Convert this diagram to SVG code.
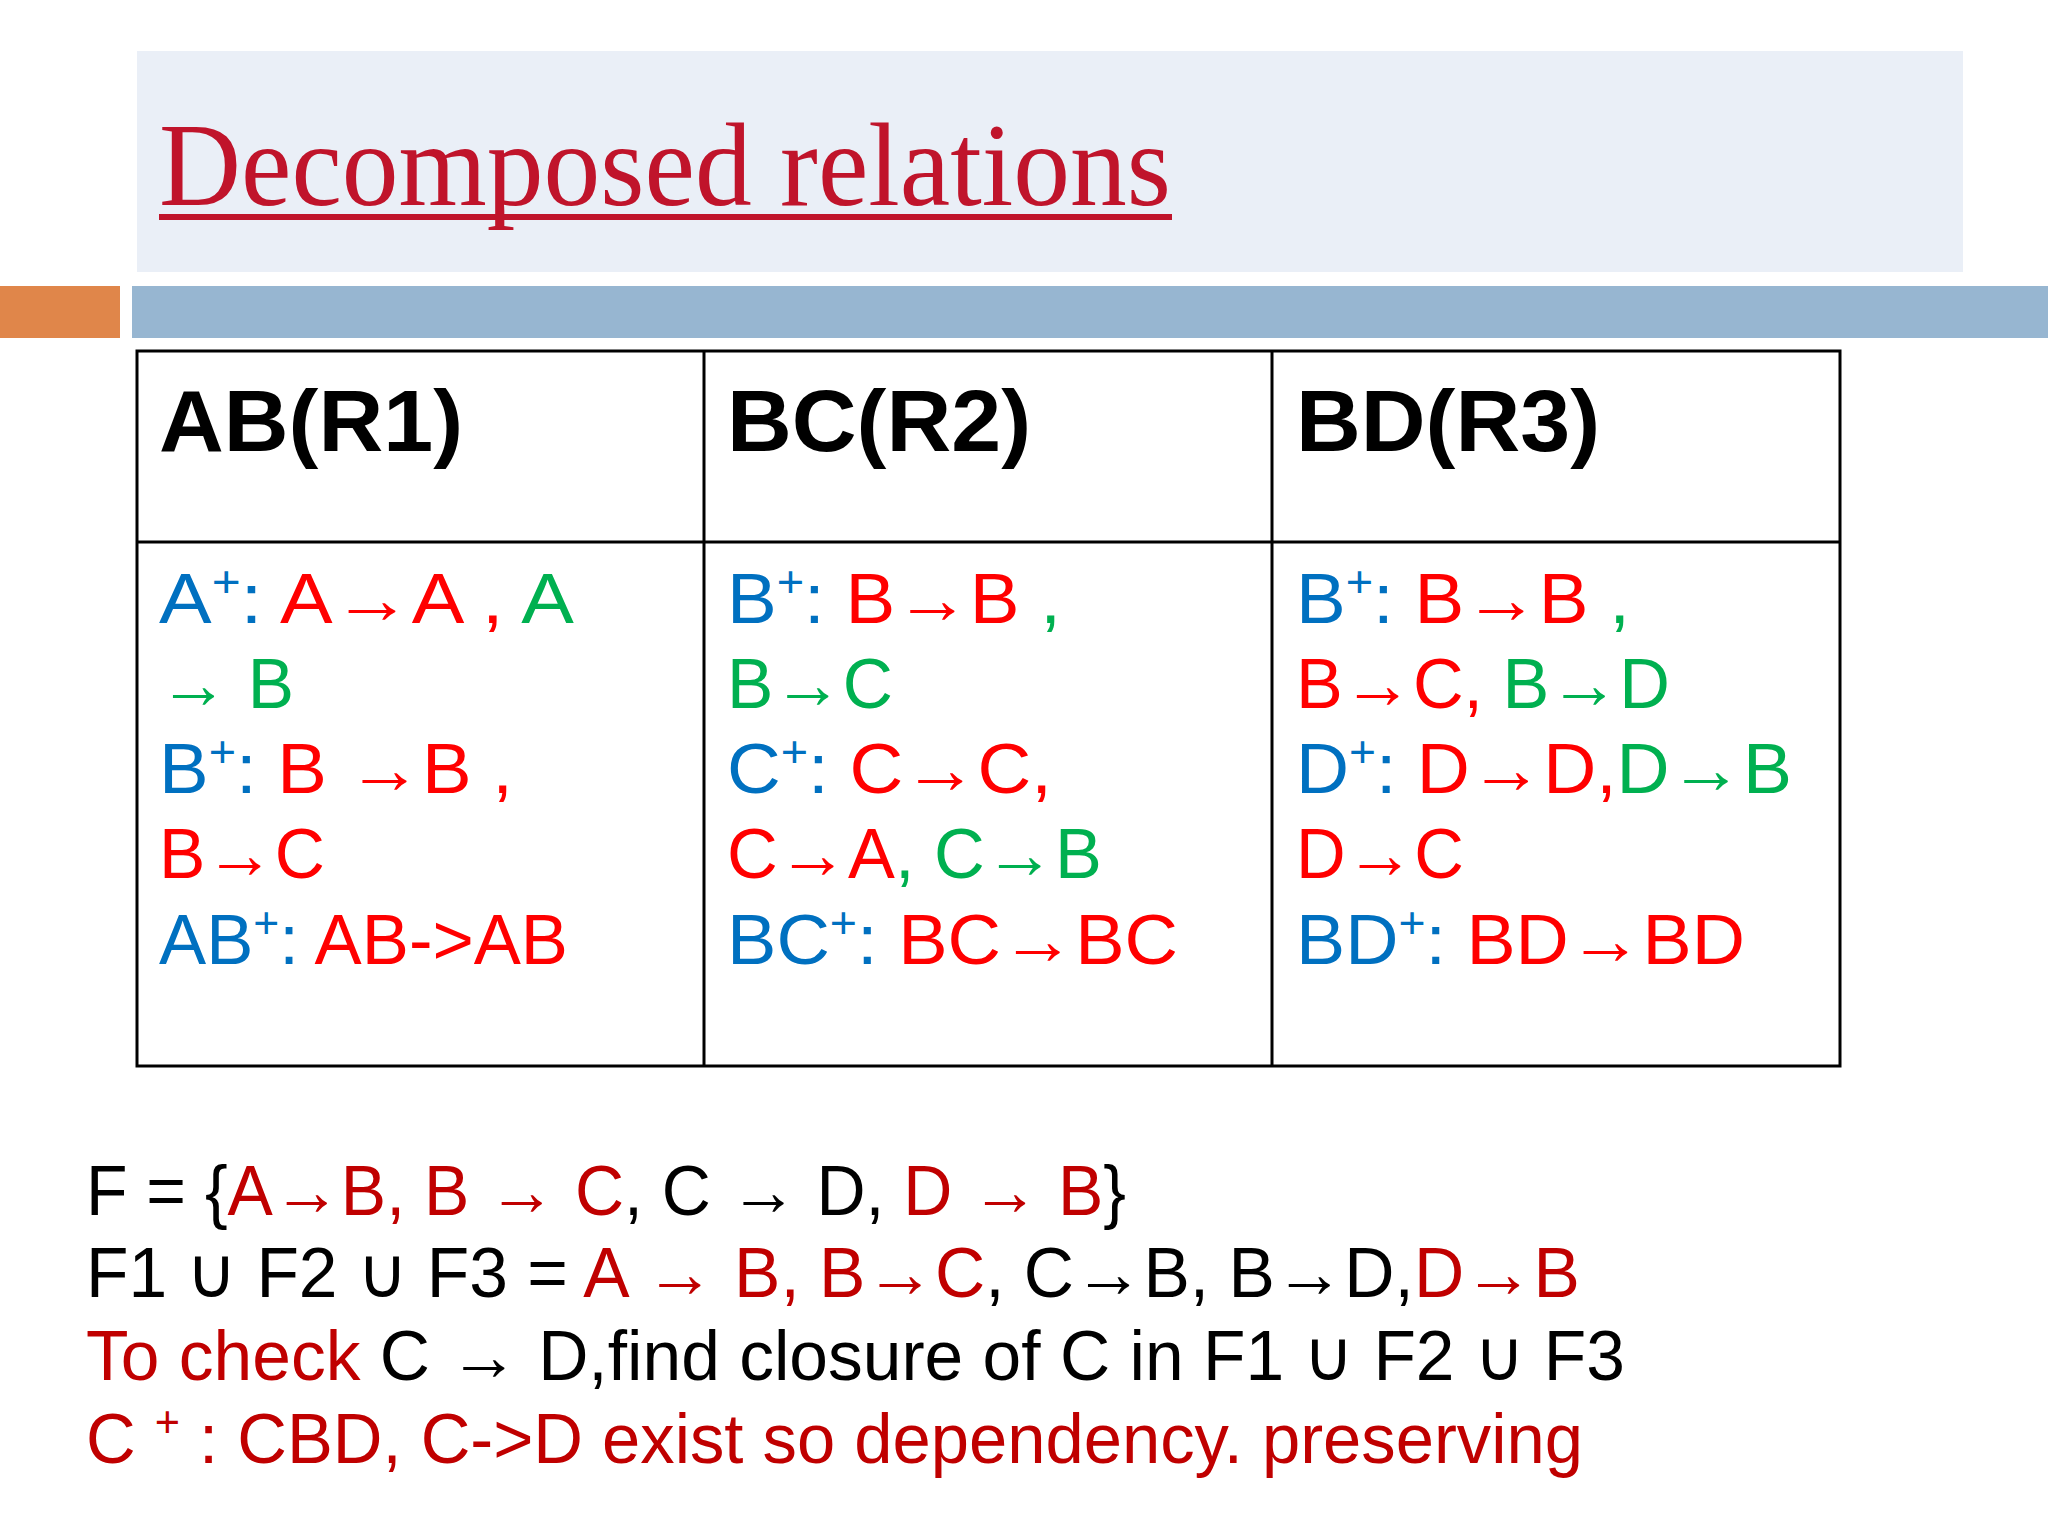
<svg xmlns="http://www.w3.org/2000/svg" width="2048" height="1536" viewBox="0 0 2048 1536">
<style>
.t{font-family:"Liberation Sans",Arial,sans-serif;font-size:70px}
.h{font-family:"Liberation Sans",Arial,sans-serif;font-size:88px;font-weight:bold;fill:#000}
.b{font-family:"Liberation Sans",Arial,sans-serif;font-size:70px;fill:#000}
.bl{fill:#0070C0}.r{fill:#FF0000}.g{fill:#00B050}.dr{fill:#C00000}.k{fill:#000}
.sup{font-size:44px}
.grid{stroke:#000;stroke-width:3;fill:none}
</style>
<rect width="2048" height="1536" fill="#fff"/>
<g id="title">
<rect x="137" y="51" width="1826" height="221" fill="#EAEFF7"/>
<text x="159" y="205" font-family="'Liberation Serif','Times New Roman',serif" font-size="118" fill="#C0142B" textLength="1012" lengthAdjust="spacingAndGlyphs">Decomposed relations</text>
<rect x="159" y="214" width="1013" height="6" fill="#C0142B"/>
</g>
<g id="bars">
<rect x="0" y="286" width="120" height="52" fill="#E0864A"/>
<rect x="132" y="286" width="1916" height="52" fill="#97B6D1"/>
</g>
<g id="table">
<rect class="grid" x="137" y="351" width="1703" height="715"/>
<line class="grid" x1="704" y1="351" x2="704" y2="1066"/>
<line class="grid" x1="1272" y1="351" x2="1272" y2="1066"/>
<line class="grid" x1="137" y1="542" x2="1840" y2="542"/>
<text class="h" x="159" y="451" textLength="304" lengthAdjust="spacingAndGlyphs">AB(R1)</text>
<text class="h" x="727" y="451" textLength="304" lengthAdjust="spacingAndGlyphs">BC(R2)</text>
<text class="h" x="1296" y="451" textLength="304" lengthAdjust="spacingAndGlyphs">BD(R3)</text>
</g>
<g id="col1">
<text class="t" x="159" y="623" textLength="415" lengthAdjust="spacingAndGlyphs"><tspan class="bl">A</tspan><tspan class="bl sup" dy="-26">+</tspan><tspan class="bl" dy="26">:   </tspan><tspan class="r">A→A , </tspan><tspan class="g">A</tspan></text>
<text class="t g" x="159" y="708" textLength="135" lengthAdjust="spacingAndGlyphs">→ B</text>
<text class="t" x="159" y="793" textLength="354" lengthAdjust="spacingAndGlyphs"><tspan class="bl">B</tspan><tspan class="bl sup" dy="-26">+</tspan><tspan class="bl" dy="26">:  </tspan><tspan class="r">B →B ,</tspan></text>
<text class="t r" x="159" y="878" textLength="166" lengthAdjust="spacingAndGlyphs">B→C</text>
<text class="t" x="159" y="964" textLength="409" lengthAdjust="spacingAndGlyphs"><tspan class="bl">AB</tspan><tspan class="bl sup" dy="-26">+</tspan><tspan class="bl" dy="26">: </tspan><tspan class="r">AB-&gt;AB</tspan></text>
</g>
<g id="col2">
<text class="t" x="727" y="623" textLength="334" lengthAdjust="spacingAndGlyphs"><tspan class="bl">B</tspan><tspan class="bl sup" dy="-26">+</tspan><tspan class="bl" dy="26">:  </tspan><tspan class="r">B→B </tspan><tspan class="g">,</tspan></text>
<text class="t g" x="727" y="708" textLength="166" lengthAdjust="spacingAndGlyphs">B→C</text>
<text class="t" x="727" y="793" textLength="325" lengthAdjust="spacingAndGlyphs"><tspan class="bl">C</tspan><tspan class="bl sup" dy="-26">+</tspan><tspan class="bl" dy="26">:  </tspan><tspan class="r">C→C,</tspan></text>
<text class="t" x="727" y="878" textLength="375" lengthAdjust="spacingAndGlyphs"><tspan class="r">C→A</tspan><tspan class="g">, C→B</tspan></text>
<text class="t" x="727" y="964" textLength="451" lengthAdjust="spacingAndGlyphs"><tspan class="bl">BC</tspan><tspan class="bl sup" dy="-26">+</tspan><tspan class="bl" dy="26">:  </tspan><tspan class="r">BC→BC</tspan></text>
</g>
<g id="col3">
<text class="t" x="1296" y="623" textLength="334" lengthAdjust="spacingAndGlyphs"><tspan class="bl">B</tspan><tspan class="bl sup" dy="-26">+</tspan><tspan class="bl" dy="26">:  </tspan><tspan class="r">B→B </tspan><tspan class="g">,</tspan></text>
<text class="t" x="1296" y="708" textLength="374" lengthAdjust="spacingAndGlyphs"><tspan class="r">B→C, </tspan><tspan class="g">B→D</tspan></text>
<text class="t" x="1296" y="793" textLength="496" lengthAdjust="spacingAndGlyphs"><tspan class="bl">D</tspan><tspan class="bl sup" dy="-26">+</tspan><tspan class="bl" dy="26">:  </tspan><tspan class="r">D→D,</tspan><tspan class="g">D→B</tspan></text>
<text class="t r" x="1296" y="878" textLength="168" lengthAdjust="spacingAndGlyphs">D→C</text>
<text class="t" x="1296" y="964" textLength="449" lengthAdjust="spacingAndGlyphs"><tspan class="bl">BD</tspan><tspan class="bl sup" dy="-26">+</tspan><tspan class="bl" dy="26">:  </tspan><tspan class="r">BD→BD</tspan></text>
</g>
<g id="notes">
<text class="b" x="86" y="1215" textLength="1040" lengthAdjust="spacingAndGlyphs">F = {<tspan class="dr">A→B, B → C</tspan>, C → D, <tspan class="dr">D → B</tspan>}</text>
<text class="b" x="86" y="1297" textLength="1494" lengthAdjust="spacingAndGlyphs">F1  ∪ F2  ∪ F3 = <tspan class="dr">A → B, B→C</tspan>, C→B, B→D,<tspan class="dr">D→B</tspan></text>
<text class="b" x="86" y="1380" textLength="1539" lengthAdjust="spacingAndGlyphs"><tspan class="dr">To check </tspan>C → D,find closure of C in F1  ∪ F2  ∪ F3</text>
<text class="b dr" x="86" y="1463" textLength="1497" lengthAdjust="spacingAndGlyphs">C <tspan class="sup" dy="-26">+</tspan><tspan dy="26"> :  CBD, C-&gt;D exist so dependency. preserving</tspan></text>
</g>
</svg>
